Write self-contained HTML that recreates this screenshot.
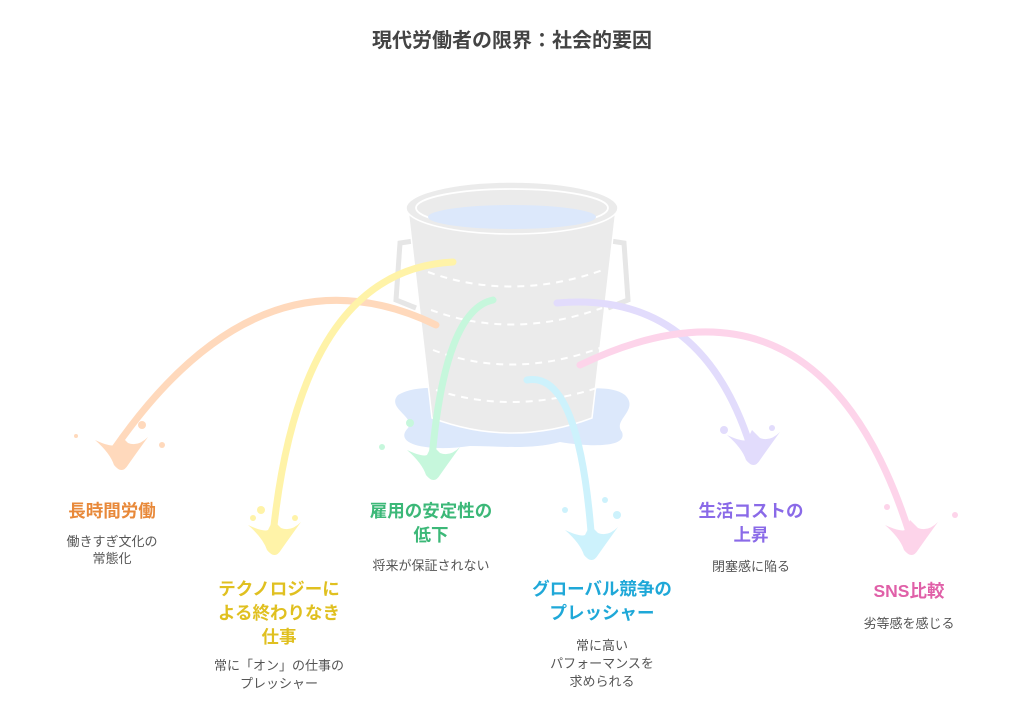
<!DOCTYPE html>
<html><head><meta charset="utf-8"><style>
body{margin:0;background:#fff;}
svg{display:block;font-family:"Liberation Sans","Noto Sans CJK JP",sans-serif;}
.t{font-size:17.5px;font-weight:bold;text-anchor:middle;}
.s{font-size:13px;fill:#555;text-anchor:middle;}
</style></head><body>
<svg width="1024" height="715" viewBox="0 0 1024 715">
<text x="512" y="47" text-anchor="middle" font-size="20" font-weight="bold" fill="#444">現代労働者の限界：社会的要因</text>
<!-- puddle -->
<path d="M398,395 C420,382 460,390 500,392 C560,395 605,380 625,395 C640,410 612,420 622,432 C628,448 590,447 560,442 C530,450 500,446 470,446 C430,452 392,445 408,428 C416,417 386,408 398,395Z" fill="#dce8fb"/>
<!-- handles -->
<path d="M420,240 L400,243 L396,300 L416,308" fill="none" stroke="#e6e6e6" stroke-width="5"/>
<path d="M604,240 L624,243 L628,300 L608,308" fill="none" stroke="#e6e6e6" stroke-width="5"/>
<!-- body -->
<path d="M408,210 L432,418 Q512,448 592,418 L616,210 Z" fill="#ebebeb" stroke="#fff" stroke-width="1.5"/>
<ellipse cx="512" cy="208" rx="106" ry="26" fill="#ebebeb" stroke="#fff" stroke-width="1.5"/>
<ellipse cx="512" cy="208" rx="96" ry="19" fill="none" stroke="#fff" stroke-width="1.8"/>
<ellipse cx="512" cy="217" rx="84" ry="12" fill="#dce8fb"/>
<g fill="none" stroke="#fff" stroke-width="2" stroke-dasharray="7,6">
<path d="M428,272 Q512,302 603,270"/>
<path d="M431,310 Q512,340 602,308"/>
<path d="M433,350 Q512,380 600,348"/>
<path d="M436,390 Q512,415 597,388"/>
</g>
<!-- streams -->
<g fill="none" stroke-width="7" stroke-linecap="round">
<path d="M436,325 Q260,240 115,448" stroke="#ffd9bc"/>
<path d="M453,262 Q300,270 273,535" stroke="#fff3a8"/>
<path d="M493,300 Q445,310 432,458" stroke="#c6f7dc"/>
<path d="M527,380 Q580,370 592,545" stroke="#cdf2fc"/>
<path d="M557,303 Q700,290 750,445" stroke="#e2dcfc"/>
<path d="M580,365 Q820,250 910,535" stroke="#fdd4ea"/>
</g>
<!-- splashes -->
<g>
<g transform="translate(120,455)" fill="#ffd9bc"><path d="M-25,-15 Q-10,-8 -5,-10 L0,-20 L8,-12 Q18,-8 28,-18 Q15,0 8,10 Q2,20 -6,10 Q-10,-2 -25,-15Z"/><circle cx="22" cy="-30" r="4"/><circle cx="42" cy="-10" r="3"/><circle cx="-44" cy="-19" r="2"/></g>
<g transform="translate(273,540)" fill="#fff3a8"><path d="M-25,-15 Q-10,-8 -5,-10 L0,-20 L8,-12 Q18,-8 28,-18 Q15,0 8,10 Q2,20 -6,10 Q-10,-2 -25,-15Z"/><circle cx="-12" cy="-30" r="4"/><circle cx="-20" cy="-22" r="3"/><circle cx="22" cy="-22" r="3"/></g>
<g transform="translate(432,465)" fill="#c6f7dc"><path d="M-25,-15 Q-10,-8 -5,-10 L0,-20 L8,-12 Q18,-8 28,-18 Q15,0 8,10 Q2,20 -6,10 Q-10,-2 -25,-15Z"/><circle cx="-50" cy="-18" r="3"/><circle cx="-22" cy="-42" r="4"/></g>
<g transform="translate(590,545)" fill="#cdf2fc"><path d="M-25,-15 Q-10,-8 -5,-10 L0,-20 L8,-12 Q18,-8 28,-18 Q15,0 8,10 Q2,20 -6,10 Q-10,-2 -25,-15Z"/><circle cx="-25" cy="-35" r="3"/><circle cx="27" cy="-30" r="4"/><circle cx="15" cy="-45" r="3"/></g>
<g transform="translate(752,450)" fill="#e2dcfc"><path d="M-25,-15 Q-10,-8 -5,-10 L0,-20 L8,-12 Q18,-8 28,-18 Q15,0 8,10 Q2,20 -6,10 Q-10,-2 -25,-15Z"/><circle cx="-28" cy="-20" r="4"/><circle cx="20" cy="-22" r="3"/></g>
<g transform="translate(910,540)" fill="#fdd4ea"><path d="M-25,-15 Q-10,-8 -5,-10 L0,-20 L8,-12 Q18,-8 28,-18 Q15,0 8,10 Q2,20 -6,10 Q-10,-2 -25,-15Z"/><circle cx="-23" cy="-33" r="3"/><circle cx="45" cy="-25" r="3"/></g>
</g>
<!-- labels -->
<text class="t" x="112" y="517" fill="#e8893a">長時間労働</text>
<text class="s" x="112" y="546">働きすぎ文化の</text>
<text class="s" x="112" y="563">常態化</text>

<text class="t" x="279" y="595" fill="#e0c020">テクノロジーに</text>
<text class="t" x="279" y="619" fill="#e0c020">よる終わりなき</text>
<text class="t" x="279" y="643" fill="#e0c020">仕事</text>
<text class="s" x="279" y="670">常に「オン」の仕事の</text>
<text class="s" x="279" y="688">プレッシャー</text>

<text class="t" x="431" y="517" fill="#3cb878">雇用の安定性の</text>
<text class="t" x="431" y="541" fill="#3cb878">低下</text>
<text class="s" x="431" y="570">将来が保証されない</text>

<text class="t" x="602" y="595" fill="#1fa8d8">グローバル競争の</text>
<text class="t" x="602" y="619" fill="#1fa8d8">プレッシャー</text>
<text class="s" x="602" y="650">常に高い</text>
<text class="s" x="602" y="668">パフォーマンスを</text>
<text class="s" x="602" y="686">求められる</text>

<text class="t" x="751" y="517" fill="#8a6ae8">生活コストの</text>
<text class="t" x="751" y="541" fill="#8a6ae8">上昇</text>
<text class="s" x="751" y="571">閉塞感に陥る</text>

<text class="t" x="909" y="597" fill="#e060a8">SNS比較</text>
<text class="s" x="909" y="628">劣等感を感じる</text>
</svg>
</body></html>
